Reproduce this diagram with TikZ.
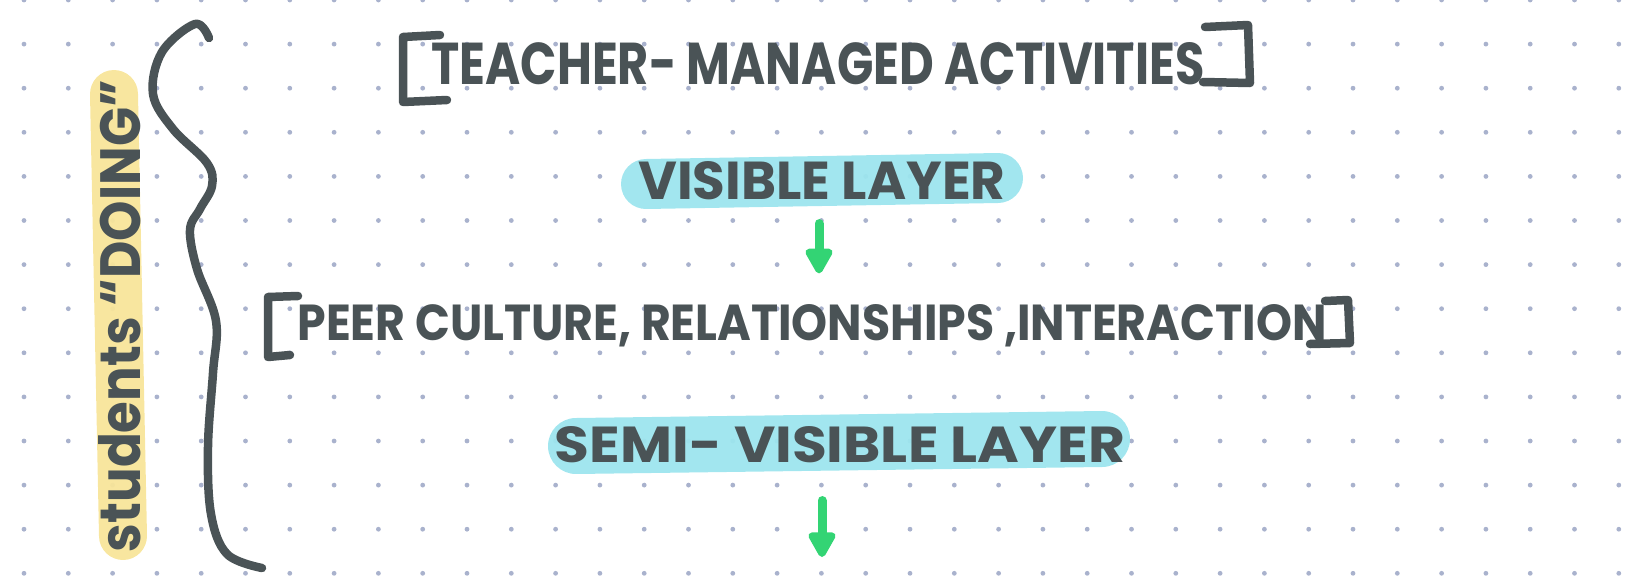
\documentclass[tikz,border=0pt]{standalone}
\usepackage{fontspec}
\setmainfont{Poppins}
\usepackage{graphicx}
\usepackage{tikz}
\usetikzlibrary{arrows.meta, positioning}

\definecolor{ink}{HTML}{4A5356}
\definecolor{dotgray}{HTML}{A9B2CD}
\definecolor{marker}{HTML}{9DE5EE}
\definecolor{hilite}{HTML}{F8E59A}
\definecolor{flowgreen}{HTML}{33D474}

% one pixel of the sketch
\newlength\px
\setlength\px{0.02cm}
% hand text squeezed to a box of w x h pixels
\newcommand{\handtext}[3]{\resizebox{#1\px}{#2\px}{\bfseries #3}}

\begin{document}
\begin{tikzpicture}[x=0.02cm, y=-0.02cm, font=\bfseries, line cap=round, line join=round]

% =========================
% Styles
% =========================
\tikzset{
    label/.style={inner sep=0pt, text=ink},
    pen/.style={draw=ink, line width=0.17cm},
    highlight/.style={line width=#1, opacity=0.95},
    flow/.style={-{Triangle[round, width=0.6cm, length=0.58cm]}, draw=flowgreen, fill=flowgreen, line width=0.18cm}
}

\useasboundingbox (0,0) rectangle (1640,585);

% =========================
% Dot grid
% =========================
\foreach \i in {0,...,36} {
    \foreach \j in {0,...,13} {
        \fill[dotgray] (24+44.3*\i, 44.1*\j) circle (0.048cm);
    }
}

% =========================
% Marker highlights
% =========================
\draw[highlight=0.96cm, hilite] (114,94) -- (123,536);
\draw[highlight=1cm, marker] (646,184) -- (998,178);
\draw[highlight=1.12cm, marker] (576,446) -- (1102,439);

% =========================
% Left brace and side label
% =========================
\draw[pen] plot[smooth, tension=0.6] coordinates {(209,38) (195,24) (162,52) (153,94) (173,129) (207,163) (212,186) (200,209) (190,230) (197,269) (216,321) (213,373) (208,447) (211,514) (227,554) (262,568)};

\node[label, rotate=90] (doing) at (120,316) {\handtext{472}{42}{students ``DOING''}};

% =========================
% Teacher-managed line
% =========================
\node[label] (managed) at (818,64) {\handtext{773}{42}{TEACHER- MANAGED ACTIVITIES}};
\draw[pen] (440,35) -- (403,37) -- (403,102) -- (447,100);
\draw[pen] (1205,27) -- (1248,25) -- (1250,83) -- (1203,82);

\node[label] (visible) at (822,181) {\handtext{367}{38}{VISIBLE LAYER}};

% =========================
% Peer culture line
% =========================
\node[label] (peer) at (812,326) {\handtext{1029}{36}{PEER CULTURE, RELATIONSHIPS ,INTERACTION}};
\draw[pen] (298,296) -- (268,297) -- (268,357) -- (290,355);
\draw[pen] (1325,301) -- (1348,300) -- (1350,343) -- (1310,344);

\node[label] (semi) at (840,445) {\handtext{570}{36}{SEMI- VISIBLE LAYER}};

% =========================
% Arrows
% =========================
\coordinate (axis) at (819,0);
\coordinate (next) at (822,557);
\draw[flow, shorten <=0.46cm, shorten >=0.62cm] (visible.south -| axis) -- (peer.north -| axis);
\draw[flow, shorten <=0.74cm] (semi.south -| next) -- (next);

\end{tikzpicture}
\end{document}
